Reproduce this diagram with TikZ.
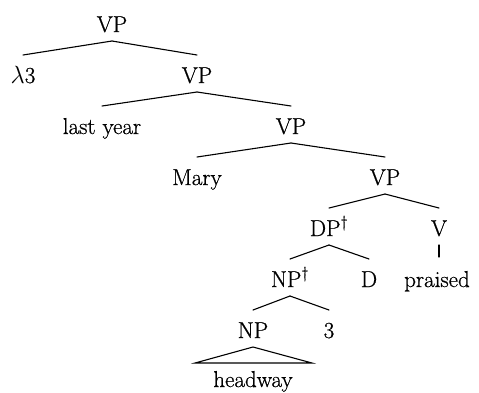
\documentclass[tikz,border=0pt]{standalone}
\usepackage{fontspec}
\setmainfont{Latin Modern Roman}[FakeBold=0.7]
\usetikzlibrary{calc}
\begin{document}
\begin{tikzpicture}[x=1pt,y=-1pt,
  lab/.style={anchor=base,inner sep=0pt,font=\fontsize{23}{28}\selectfont},
  edge/.style={line width=1.1pt,line cap=round}]
\useasboundingbox (0,0) rectangle (479,392);
\node[lab] (vp1) at (112,32) {VP};
\node[lab] (lam) at (23,83) {$\lambda$3};
\node[lab] (vp2) at (197,83) {VP};
\node[lab] (ly) at (102,134) {last year};
\node[lab] (vp3) at (291,134) {VP};
\node[lab] (mary) at (197,185) {Mary};
\node[lab] (vp4) at (385,185) {VP};
\node[lab] (dp) at (329,236) {DP\textsuperscript{\textdagger}};
\node[lab] (v) at (439,236) {V};
\node[lab] (np1) at (290,287) {NP\textsuperscript{\textdagger}};
\node[lab] (d) at (369,287) {D};
\node[lab] (pr) at (437,287) {praised};
\node[lab] (np) at (253,338) {NP};
\node[lab] (three) at (329,338) {3};
\node[lab] (hw) at (253,387) {headway};
\foreach \p/\c in {vp1/lam,vp1/vp2,vp2/ly,vp2/vp3,vp3/mary,vp3/vp4,vp4/dp,vp4/v,dp/np1,dp/d,np1/np,np1/three}
  \draw[edge] ($(\p.base)+(0,9)$) -- ($(\c.base)+(0,-28)$);
\draw[edge] ($(v.base)+(0,9)$) -- ($(pr.base)+(2,-30)$);
\draw[edge,line join=miter] ($(np.base)+(0,9)$) -- ($(hw.base)+(-58,-24)$) -- ($(hw.base)+(59,-24)$) -- cycle;
\end{tikzpicture}
\end{document}
